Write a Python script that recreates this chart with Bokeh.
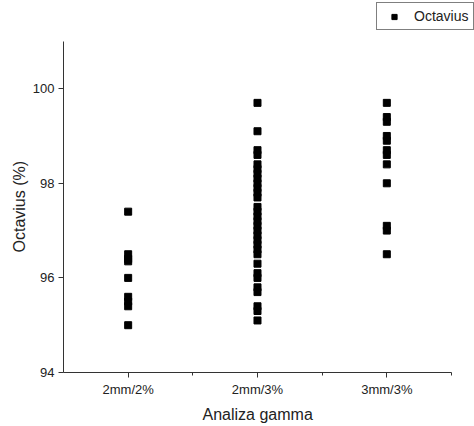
from bokeh.plotting import figure
from bokeh.models import ColumnDataSource, FixedTicker, Legend, LegendItem, Range1d, Title
from bokeh.embed import file_html
from bokeh.resources import INLINE

categories = ["2mm/2%", "2mm/3%", "3mm/3%"]
g1 = [97.4, 96.5, 96.4, 96.35, 96.0, 95.6, 95.5, 95.4, 95.0]
g2 = [99.7, 99.1, 98.7, 98.6, 98.4, 98.3, 98.2, 98.1, 98.0, 97.9, 97.8, 97.7,
      97.5, 97.4, 97.3, 97.2, 97.1, 97.0, 96.9, 96.8, 96.7, 96.6, 96.5,
      96.3, 96.1, 96.0, 95.8, 95.7, 95.4, 95.3, 95.1]
g3 = [99.7, 99.4, 99.3, 99.0, 98.9, 98.7, 98.6, 98.4, 98.0, 97.1, 97.0, 96.5]
groups = [g1, g2, g3]
y_ticks = [94, 96, 98, 100]
x_title = "Analiza gamma"
y_title = "Octavius (%)"

xs, ys = [], []
for i, g in enumerate(groups):
    xs += [i + 1] * len(g)
    ys += g
src = ColumnDataSource(dict(x=xs, y=ys))

FONT = "Liberation Sans"
# frame extends to the top/right edges so the legend can sit above the axes;
# the axis lines are limited with `bounds`
p = figure(width=474, height=426, output_backend="svg", toolbar_location=None,
           x_range=Range1d(0.5, 3.678), y_range=Range1d(94, 101.864),
           min_border_left=63, min_border_right=0, min_border_top=0, min_border_bottom=53)
p.outline_line_color = None
p.xgrid.visible = False
p.ygrid.visible = False

r = p.scatter("x", "y", source=src, marker="square", size=7,
              fill_color="black", line_color="black")

xa = p.xaxis[0]
xa.ticker = FixedTicker(ticks=[1, 2, 3], minor_ticks=[1.5, 2.5, 3.5])
xa.major_label_overrides = {i + 1: c for i, c in enumerate(categories)}
xa.bounds = (0.5, 3.5)
ya = p.yaxis[0]
ya.ticker = FixedTicker(ticks=y_ticks, minor_ticks=[])
ya.bounds = (94, 101)

for ax in (xa, ya):
    ax.axis_line_color = "#333333"
    ax.major_tick_line_color = "#333333"
    ax.minor_tick_line_color = "#333333"
    ax.major_tick_out = 5
    ax.major_tick_in = 0
    ax.minor_tick_out = 3
    ax.minor_tick_in = 0
    ax.major_label_text_font = FONT
    ax.major_label_text_font_size = "13px"
    ax.major_label_text_color = "#222222"
xa.major_label_standoff = 4
ya.major_label_standoff = 4

# axis titles, centred on the drawn axis extent (not the enlarged frame)
tx = Title(text=x_title, align="left", offset=139, standoff=8,
           text_font=FONT, text_font_size="16px", text_font_style="normal",
           text_color="#222222")
p.add_layout(tx, "below")
ty = Title(text=y_title, align="left", offset=120, standoff=4,
           text_font=FONT, text_font_size="16px", text_font_style="normal",
           text_color="#222222")
p.add_layout(ty, "left")

legend = Legend(items=[LegendItem(label="Octavius", renderers=[r])],
                location=(313, 342), orientation="vertical",
                border_line_color="black", border_line_width=1,
                label_text_font=FONT, label_text_font_size="14px",
                label_text_color="#222222",
                label_height=13, padding=5, margin=0, glyph_width=24, glyph_height=13,
                label_standoff=8, spacing=0, background_fill_alpha=1)
p.add_layout(legend, "center")

open("out.html", "w").write(file_html(p, INLINE))
